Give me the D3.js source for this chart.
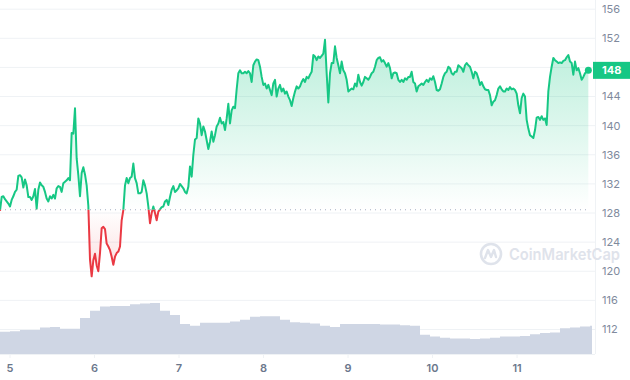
<!DOCTYPE html>
<html>
<head>
<meta charset="utf-8">
<script src="https://cdn.jsdelivr.net/npm/d3@7"></script>
<style>
  body { margin: 0; background: #fff; }
  text { font-family: Inter, "Noto Sans", sans-serif; }
</style>
</head>
<body>
<div id="chart"></div>
<script>
// price, one sample every ~28 minutes
const prices = [
  128.3,130.2,130.3,129.9,129.6,129.3,128.9,129.8,130.3,130.9,131.2,133.1,133.2,132.9,131.5,132.6,131.8,130.2,130.2,129.8,
  130.3,131.3,128.6,131.2,132.2,131.8,131.6,130.9,130.0,129.6,130.3,130.0,130.5,130.0,131.4,131.7,131.6,130.9,132.1,132.3,
  132.5,132.8,132.5,139.0,138.9,142.4,135.5,133.2,130.3,133.5,134.3,133.3,131.8,129.0,121.6,119.3,121.5,122.4,120.8,120.0,
  122.5,125.9,126.1,125.8,123.8,123.4,122.9,122.0,120.9,122.0,122.5,122.7,123.4,127.0,128.4,131.8,132.8,132.1,132.8,133.0,
  134.8,132.8,132.1,130.7,130.7,130.9,132.5,131.8,130.7,128.9,126.6,128.0,128.9,128.0,127.0,128.2,128.5,128.8,128.9,129.6,
  129.8,129.1,130.2,131.2,131.7,130.9,131.1,131.4,132.0,131.7,131.4,130.9,130.7,131.6,134.4,133.0,136.0,138.1,138.3,141.0,
  140.3,138.7,139.9,139.2,138.0,136.8,137.8,139.2,137.8,138.7,139.9,140.3,141.1,140.3,140.5,139.4,141.0,143.0,140.3,142.1,
  142.6,142.4,145.0,147.2,147.6,147.2,147.2,147.4,147.2,147.5,147.2,146.0,148.3,148.8,149.1,149.0,148.1,146.7,145.6,145.8,
  145.1,145.6,144.9,144.2,145.8,146.3,144.0,145.1,145.6,144.7,145.1,144.4,144.7,144.0,143.5,142.7,143.8,144.7,145.4,145.1,
  145.4,146.0,146.4,146.0,146.7,146.5,147.0,147.4,149.7,149.5,149.0,149.5,149.3,149.6,149.9,151.8,147.2,143.2,147.2,148.6,
  148.6,150.9,149.3,148.3,147.2,148.8,147.6,147.2,146.3,144.7,144.9,145.1,145.0,145.8,145.4,147.0,146.0,145.5,146.0,146.7,
  146.5,146.3,146.7,147.2,147.4,148.1,149.0,149.3,149.4,148.8,149.0,148.6,148.1,148.6,147.9,146.5,147.2,147.3,147.2,146.3,
  146.0,146.3,146.0,146.5,146.3,146.7,146.7,147.4,146.0,145.8,144.7,145.4,145.6,145.8,145.6,146.0,146.3,146.0,146.5,146.3,
  146.8,146.0,144.9,144.8,145.0,145.8,146.7,147.2,147.4,148.1,147.9,147.2,147.0,147.4,147.4,148.3,148.1,147.9,147.4,148.3,
  148.6,148.3,148.1,147.4,146.5,147.4,147.2,146.5,145.6,146.0,145.4,145.0,144.9,144.9,144.2,142.8,143.3,143.5,144.2,145.1,
  145.4,145.0,144.7,144.7,145.1,144.9,145.3,145.0,145.1,144.9,144.4,142.8,141.7,143.8,144.4,144.0,140.8,139.6,138.7,138.5,
  138.3,139.4,141.1,141.2,140.8,141.3,140.8,141.0,140.1,144.7,146.7,148.1,149.3,149.0,148.8,148.6,148.7,148.6,148.9,149.0,
  149.4,149.7,148.8,148.6,147.0,148.8,147.6,147.9,147.2,146.3,146.7,147.2,147.4,147.6
];

// volume (relative units), one sample every 6 price samples
const volumes = [
  37,38,40,40,44,45,42,42,60,72,79,80,80,83,84,85,72,65,50,47,
  52,52,52,54,57,62,63,63,57,53,52,51,47,45,50,50,50,50,49,49,
  48,47,32,29,27,26,26,25,26,27,29,29,30,33,35,36,43,44,46,47
];

const yTicks = [112, 116, 120, 124, 128, 132, 136, 140, 144, 148, 152, 156];
const baseline = 128.45;
const lastLabel = "148";
const startTime = new Date(2023, 2, 4, 21, 18);
const stepMinutes = 28.4;
const volumeEvery = 6;

const width = 630, height = 380;
const plotRight = 595, plotBottom = 354;
const green = "#16c784", red = "#ea3943";

const times = prices.map((d, i) => new Date(+startTime + i * stepMinutes * 60000));
const endTime = new Date(+startTime + prices.length * stepMinutes * 60000);

const x = d3.scaleTime().domain([startTime, endTime]).range([0, 590]);
const y = d3.scaleLinear().domain([112, 156]).range([329.5, 9.2]);
const yVol = d3.scaleLinear().domain([0, 100]).range([plotBottom, 294]);
const yBase = y(baseline);

const svg = d3.select("#chart").append("svg")
  .attr("width", width)
  .attr("height", height);

const defs = svg.append("defs");

const gUp = defs.append("linearGradient")
  .attr("id", "gradUp").attr("gradientUnits", "userSpaceOnUse")
  .attr("x1", 0).attr("x2", 0).attr("y1", y(152)).attr("y2", yBase);
gUp.append("stop").attr("offset", 0).attr("stop-color", green).attr("stop-opacity", 0.3);
gUp.append("stop").attr("offset", 1).attr("stop-color", green).attr("stop-opacity", 0.0);

const gDown = defs.append("linearGradient")
  .attr("id", "gradDown").attr("gradientUnits", "userSpaceOnUse")
  .attr("x1", 0).attr("x2", 0).attr("y1", yBase).attr("y2", y(119));
gDown.append("stop").attr("offset", 0).attr("stop-color", red).attr("stop-opacity", 0.0);
gDown.append("stop").attr("offset", 1).attr("stop-color", red).attr("stop-opacity", 0.18);

defs.append("clipPath").attr("id", "clipUp")
  .append("rect").attr("x", -5).attr("y", 0).attr("width", 610).attr("height", yBase);
defs.append("clipPath").attr("id", "clipDown")
  .append("rect").attr("x", -5).attr("y", yBase).attr("width", 610).attr("height", height - yBase);

// grid
svg.append("g").selectAll("line")
  .data(yTicks)
  .enter().append("line")
  .attr("x1", 0).attr("x2", plotRight)
  .attr("y1", d => y(d)).attr("y2", d => y(d))
  .attr("stroke", "#eff2f5").attr("stroke-width", 1);

svg.append("line")
  .attr("x1", plotRight + 0.5).attr("x2", plotRight + 0.5)
  .attr("y1", 0).attr("y2", plotBottom)
  .attr("stroke", "#eff2f5");

// volume
const volData = volumes.map((v, j) => ({ t: times[j * volumeEvery] || endTime, v: v }));
volData.push({ t: new Date(+startTime + volumes.length * volumeEvery * stepMinutes * 60000), v: volumes[volumes.length - 1] });
svg.append("path")
  .datum(volData)
  .attr("fill", "#cfd6e4")
  .attr("d", d3.area().curve(d3.curveStepAfter)
    .x(d => Math.min(x(d.t), 592)).y0(plotBottom).y1(d => yVol(d.v)));

// x axis
svg.append("line")
  .attr("x1", 0).attr("x2", plotRight)
  .attr("y1", plotBottom + 0.5).attr("y2", plotBottom + 0.5)
  .attr("stroke", "#eff2f5");

const xAxis = d3.axisBottom(x)
  .ticks(d3.timeDay.every(1))
  .tickFormat(d3.timeFormat("%-d"))
  .tickSize(4).tickPadding(6);
const gx = svg.append("g").attr("transform", `translate(0,${plotBottom})`).call(xAxis);
gx.select(".domain").remove();
gx.selectAll(".tick line").attr("stroke", "#eff2f5");
gx.selectAll(".tick text")
  .attr("fill", "#6b778c").attr("font-size", 11).attr("font-weight", 600)
  .style("font-family", "Inter, sans-serif");

// price areas
const area = d3.area()
  .x((d, i) => x(times[i]))
  .y0(yBase)
  .y1(d => y(d));
svg.append("path").datum(prices).attr("d", area)
  .attr("fill", "url(#gradUp)").attr("clip-path", "url(#clipUp)");
svg.append("path").datum(prices).attr("d", area)
  .attr("fill", "url(#gradDown)").attr("clip-path", "url(#clipDown)");

// baseline
svg.append("line")
  .attr("x1", 0).attr("x2", 590)
  .attr("y1", yBase).attr("y2", yBase)
  .attr("stroke", "#a6b0c3").attr("stroke-width", 1)
  .attr("stroke-dasharray", "1,4");

// price line
const line = d3.line()
  .x((d, i) => x(times[i]))
  .y(d => y(d));
svg.append("path").datum(prices).attr("d", line)
  .attr("fill", "none").attr("stroke", green).attr("stroke-width", 2)
  .attr("stroke-linejoin", "round").attr("clip-path", "url(#clipUp)");
svg.append("path").datum(prices).attr("d", line)
  .attr("fill", "none").attr("stroke", red).attr("stroke-width", 2)
  .attr("stroke-linejoin", "round").attr("clip-path", "url(#clipDown)");

// watermark
const wm = svg.append("g").attr("transform", "translate(491,254)");
wm.append("circle").attr("r", 10).attr("fill", "none")
  .attr("stroke", "#dfe3eb").attr("stroke-width", 2.6);
wm.append("path")
  .attr("d", "M-6,4 L-3,-4 L0,3 L3,-4 L5,3")
  .attr("fill", "none").attr("stroke", "#dfe3eb").attr("stroke-width", 2.4)
  .attr("stroke-linejoin", "round").attr("stroke-linecap", "round");
wm.append("text")
  .attr("x", 18).attr("y", 6)
  .attr("font-size", 16).attr("font-weight", 600)
  .attr("fill", "#dfe3eb")
  .attr("textLength", 111).attr("lengthAdjust", "spacingAndGlyphs")
  .text("CoinMarketCap");

// end dot and price tag
const lastIndex = prices.length - 1;
const lastY = y(prices[lastIndex]);

// y labels (the one hidden under the price tag is left out)
svg.append("g").selectAll("text")
  .data(yTicks.filter(d => Math.abs(y(d) - lastY) > 10))
  .enter().append("text")
  .attr("x", 602).attr("y", d => y(d))
  .attr("dy", "0.35em")
  .attr("font-size", 11)
  .attr("fill", "#808a9d")
  .text(d => d);

svg.append("circle")
  .attr("cx", x(times[lastIndex])).attr("cy", lastY).attr("r", 3.5)
  .attr("fill", green);

svg.append("rect")
  .attr("x", 593).attr("y", lastY - 8.5)
  .attr("width", 37).attr("height", 17)
  .attr("fill", green);
svg.append("text")
  .attr("x", 602).attr("y", lastY)
  .attr("dy", "0.36em")
  .attr("font-size", 11).attr("font-weight", 700)
  .attr("fill", "#fff")
  .text(lastLabel);
</script>
</body>
</html>
